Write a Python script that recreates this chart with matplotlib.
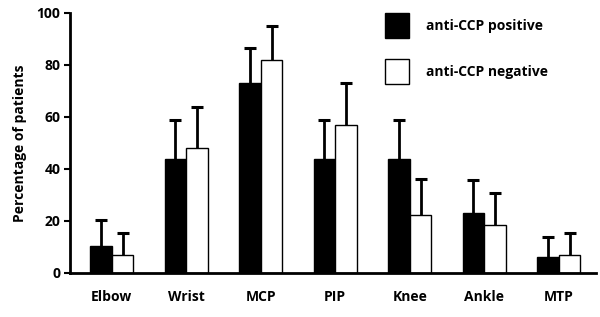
import matplotlib
matplotlib.use("Agg")
import matplotlib.pyplot as plt
import numpy as np

# joint sites
joints = ["Elbow", "Wrist", "MCP", "PIP", "Knee", "Ankle", "MTP"]

# percentage of patients and top of the error bar
pos_vals = [10.4, 44, 73, 44, 44, 23.2, 6.2]
pos_top = [20.2, 59, 86.7, 59, 59, 35.8, 14]
neg_vals = [7, 48, 82, 57, 22.5, 18.3, 7]
neg_top = [15.4, 64, 95, 73, 36.2, 30.6, 15.4]

plt.rcParams['font.family'] = ['Open Sans', 'DejaVu Sans']
plt.rcParams['font.weight'] = 'bold'

fig = plt.figure(figsize=(6, 3.17), dpi=100)
ax = fig.add_axes([70/600, 1-273/317, 526/600, 260/317])

x = np.arange(len(joints))
w = 0.29
ax.bar(x - w/2, pos_vals, w, color="black", edgecolor="black", linewidth=1,
       label="anti-CCP positive", zorder=2)
ax.bar(x + w/2, neg_vals, w, color="white", edgecolor="black", linewidth=1,
       label="anti-CCP negative", zorder=2)

# upward-only error bars with a cap on top
for xs, vals, tops in [(x - w/2, pos_vals, pos_top), (x + w/2, neg_vals, neg_top)]:
    ax.vlines(xs, vals, tops, color="black", linewidth=2, zorder=1)
    ax.plot(xs, tops, linestyle="none", marker="_", markersize=8,
            markeredgewidth=2.2, color="black", zorder=1)

ax.set_xlim(-0.56, 6.5)
ax.set_ylim(0, 100)
ax.set_yticks([0, 20, 40, 60, 80, 100])
ax.set_xticks(x)
ax.set_xticklabels(joints, fontsize=10, fontweight="bold")
ax.tick_params(axis="x", length=0, pad=12)
ax.tick_params(axis="y", direction="out", length=4, width=1.5, labelsize=10, pad=3)
for lab in ax.get_yticklabels():
    lab.set_fontweight("bold")
ax.spines["top"].set_visible(False)
ax.spines["right"].set_visible(False)
ax.spines["left"].set_linewidth(2)
ax.spines["bottom"].set_linewidth(2)
ax.set_ylabel("Percentage of patients", fontsize=10, fontweight="bold", labelpad=7)

ax.legend(loc="upper left", bbox_to_anchor=(0.599, 1.0), frameon=False,
          fontsize=10, handlelength=1.75, handleheight=2.4, labelspacing=1.5,
          handletextpad=1.2, borderaxespad=0, borderpad=0)

fig.savefig("out.png", dpi=100)
